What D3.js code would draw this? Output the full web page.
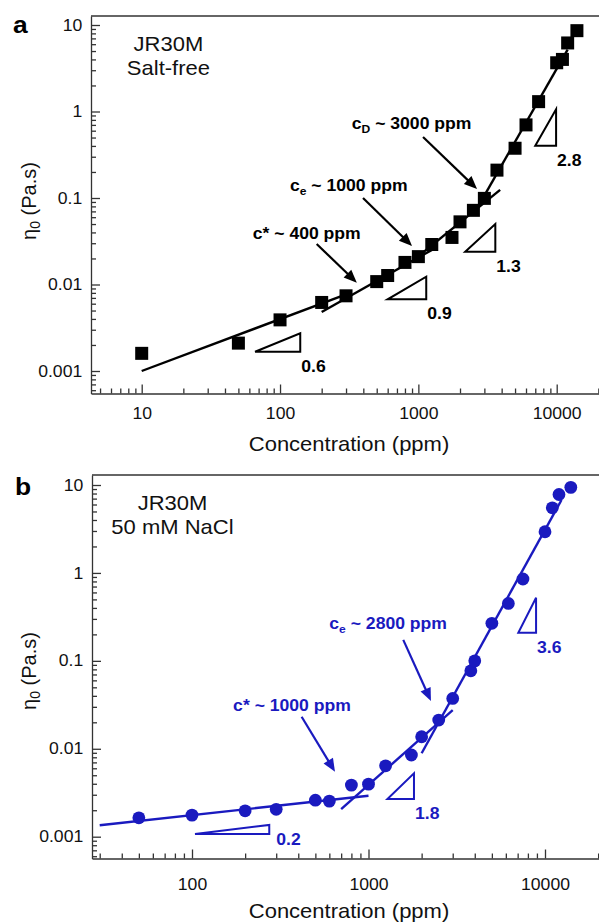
<!DOCTYPE html>
<html>
<head>
<meta charset="utf-8">
<script src="https://cdn.jsdelivr.net/npm/d3@7"></script>
<style>
  html, body { margin: 0; padding: 0; background: #fff; }
  svg { display: block; font-family: "Liberation Sans", Arial, Helvetica, sans-serif; }
</style>
</head>
<body>
<svg id="chart" width="599" height="924"></svg>
<script>
// ---- panel a : salt-free, squares ----
const concA = [10, 50, 100, 200, 300, 500, 600, 800, 1000, 1250, 1750, 2000, 2500, 3000, 3700, 5000, 6000, 7400, 10000, 11000, 12000, 14000];
const etaA = [0.0016, 0.0021, 0.0039, 0.0062, 0.0074, 0.0108, 0.0127, 0.018, 0.021, 0.029, 0.035, 0.053, 0.072, 0.099, 0.21, 0.376, 0.70, 1.30, 3.66, 4.0, 6.2, 8.6];
// power-law fits, [[c0, eta0], [c1, eta1]]
const fitsA = [
  [[10, 0.001], [300, 0.0077]],
  [[200, 0.0048], [1300, 0.026]],
  [[900, 0.0185], [3900, 0.124]],
  [[2600, 0.0715], [12000, 5.2]],
];
// slope triangles [cLeft, cRight, etaLow, etaHigh]
const trisA = [[66, 140, 0.00167, 0.00273], [600, 1140, 0.00675, 0.0123], [2180, 3600, 0.0239, 0.050], [7000, 9900, 0.403, 1.06]];
const triLabelsA = ['0.6', '0.9', '1.3', '2.8'];
const calloutsA = [
  { sub: '', tail: '* ~ 400 ppm', at: [63.5, 0.0336], from: [184, 0.0294], to: [359, 0.0105] },
  { sub: 'e', tail: ' ~ 1000 ppm', at: [118, 0.1205], from: [398, 0.1], to: [900, 0.0279] },
  { sub: 'D', tail: ' ~ 3000 ppm', at: [330, 0.628], from: [1081, 0.507], to: [2655, 0.127] },
];
const notesA = [['JR30M', 15.6, 5.0], ['Salt-free', 15.6, 2.64]];

// ---- panel b : 50 mM NaCl, circles ----
const concB = [50, 100, 200, 300, 500, 600, 800, 1000, 1250, 1750, 2000, 2500, 3000, 3800, 4000, 5000, 6200, 7500, 10000, 11000, 12000, 14000];
const etaB = [0.00164, 0.00176, 0.00197, 0.00205, 0.0026, 0.00254, 0.00386, 0.00396, 0.0064, 0.0085, 0.0137, 0.0212, 0.0374, 0.077, 0.100, 0.267, 0.45, 0.853, 2.94, 5.5, 7.8, 9.4];
const fitsB = [
  [[30, 0.00135], [1000, 0.00292]],
  [[700, 0.00206], [3000, 0.0275]],
  [[2000, 0.0089], [12400, 6.75]],
];
const trisB = [[104, 274, 0.00107, 0.00136], [1280, 1810, 0.00268, 0.00525], [7060, 8900, 0.209, 0.522]];
const triLabelsB = ['0.2', '1.8', '3.6'];
const calloutsB = [
  { sub: '', tail: '* ~ 1000 ppm', at: [171, 0.0268], from: [418, 0.0231], to: [646, 0.00547] },
  { sub: 'e', tail: ' ~ 2800 ppm', at: [600, 0.230], from: [1574, 0.173], to: [2259, 0.0349] },
];
const notesB = [['JR30M', 77.5, 5.2], ['50 mM NaCl', 77.5, 2.77]];

// axis ticks
const yTicks = [0.001, 0.01, 0.1, 1, 10];
const yTickLabels = ['0.001', '0.01', '0.1', '1', '10'];
const xTicksA = [10, 100, 1000, 10000];
const xTicksB = [100, 1000, 10000];
const xTickLabelsA = ['10', '100', '1000', '10000'];
const xTickLabelsB = ['100', '1000', '10000'];

const SX = 1.1; // the figure's lettering is slightly wide
const svg = d3.select('#chart');

function addText(g, x, y, str, { size = 16, weight = 'normal', anchor = 'start', fill = '#111' } = {}) {
  return g.append('text')
    .attr('transform', `translate(${x},${y}) scale(${SX},1)`)
    .attr('text-anchor', anchor)
    .attr('font-size', size)
    .attr('font-weight', weight)
    .attr('fill', fill)
    .text(str);
}

function drawPanel(cfg) {
  const { frame, xRef, yRef, color, marker } = cfg;
  const g = svg.append('g');

  // scales anchored on two known decades, then stretched to the frame
  const x = d3.scaleLog().domain(xRef.domain).range(xRef.range);
  x.domain([x.invert(frame.left), x.invert(frame.right)]).range([frame.left, frame.right]);
  const y = d3.scaleLog().domain(yRef.domain).range(yRef.range);
  y.domain([y.invert(frame.bottom), y.invert(frame.top)]).range([frame.bottom, frame.top]);

  const isMajor = v => Math.abs(Math.log10(v) - Math.round(Math.log10(v))) < 1e-9;

  // minor ticks
  g.append('g').attr('transform', `translate(${frame.left},0)`)
    .call(d3.axisLeft(y).tickValues(y.ticks().filter(v => !isMajor(v))).tickSize(-5).tickFormat(''))
    .call(s => s.select('.domain').remove());
  g.append('g').attr('transform', `translate(0,${frame.bottom})`)
    .call(d3.axisBottom(x).tickValues(x.ticks().filter(v => !isMajor(v))).tickSize(-5).tickFormat(''))
    .call(s => s.select('.domain').remove());

  // major ticks + labels
  const yl = new Map(yTicks.map((v, i) => [v, yTickLabels[i]]));
  const gy = g.append('g').attr('transform', `translate(${frame.left},0)`)
    .call(d3.axisLeft(y).tickValues(yTicks).tickSizeInner(-9).tickSizeOuter(0).tickPadding(8).tickFormat(d => yl.get(d)));
  const xl = new Map(cfg.xTicks.map((v, i) => [v, cfg.xTickLabels[i]]));
  const gx = g.append('g').attr('transform', `translate(0,${frame.bottom})`)
    .call(d3.axisBottom(x).tickValues(cfg.xTicks).tickSizeInner(-9).tickSizeOuter(0).tickPadding(cfg.xPad).tickFormat(d => xl.get(d)));

  g.selectAll('.tick line, .domain').attr('stroke', '#333').attr('stroke-width', 1.3);
  for (const ax of [gy, gx]) {
    ax.attr('font-family', null).attr('font-size', null);
    ax.selectAll('text').attr('font-size', 16).attr('fill', '#111')
      .attr('transform', `scale(${SX},1)`);
  }

  // top border
  g.append('line')
    .attr('x1', frame.left).attr('x2', frame.right)
    .attr('y1', frame.top).attr('y2', frame.top)
    .attr('stroke', '#333').attr('stroke-width', 1.3);

  // fits
  const line = d3.line().x(d => x(d[0])).y(d => y(d[1]));
  g.append('g').selectAll('path').data(cfg.fits).join('path')
    .attr('d', line).attr('fill', 'none').attr('stroke', color).attr('stroke-width', 2.4);

  // points
  const pts = d3.zip(cfg.conc, cfg.eta);
  if (marker === 'square') {
    g.append('g').selectAll('rect').data(pts).join('rect')
      .attr('x', d => x(d[0]) - 6.5).attr('y', d => y(d[1]) - 6.5)
      .attr('width', 13).attr('height', 13).attr('fill', color);
  } else {
    g.append('g').selectAll('circle').data(pts).join('circle')
      .attr('cx', d => x(d[0])).attr('cy', d => y(d[1])).attr('r', 6.4).attr('fill', color);
  }

  // slope triangles
  cfg.tris.forEach((t, i) => {
    const [c0, c1, lo, hi] = t;
    const pL = [x(c0), y(lo)], pR = [x(c1), y(lo)], pT = [x(c1), y(hi)];
    g.append('path')
      .attr('d', `M${pL}L${pR}L${pT}Z`)
      .attr('fill', 'none').attr('stroke', color).attr('stroke-width', 2).attr('stroke-linejoin', 'miter');
    const flat = pR[1] - pT[1] < 14;
    addText(g, pR[0] + (flat ? 7 : 1), pR[1] + (flat ? 10.5 : 20), cfg.triLabels[i], { size: 16, weight: 'bold', fill: color });
  });

  // callouts with arrows
  for (const c of cfg.callouts) {
    const t = g.append('text')
      .attr('transform', `translate(${x(c.at[0])},${y(c.at[1])}) scale(${SX},1)`)
      .attr('font-size', 16).attr('font-weight', 'bold').attr('fill', color);
    t.append('tspan').text('c');
    if (c.sub) {
      t.append('tspan').attr('font-size', 11).attr('dy', 4).text(c.sub);
      t.append('tspan').attr('dy', -4).text(c.tail);
    } else {
      t.append('tspan').text(c.tail);
    }
    const x0 = x(c.from[0]), y0 = y(c.from[1]), x1 = x(c.to[0]), y1 = y(c.to[1]);
    const len = Math.hypot(x1 - x0, y1 - y0), ux = (x1 - x0) / len, uy = (y1 - y0) / len;
    const hl = 13, hw = 5.5;
    const bx = x1 - ux * hl, by = y1 - uy * hl;
    g.append('line').attr('x1', x0).attr('y1', y0).attr('x2', bx + ux * 2).attr('y2', by + uy * 2)
      .attr('stroke', color).attr('stroke-width', 2.2);
    g.append('path')
      .attr('d', `M${x1},${y1}L${bx - uy * hw},${by + ux * hw}L${bx + uy * hw},${by - ux * hw}Z`)
      .attr('fill', color);
  }

  // sample notes
  for (const [str, c, e] of cfg.notes) {
    addText(g, x(c), y(e), str, { size: 20, anchor: 'middle' });
  }

  // panel tag
  addText(g, cfg.tagAt[0], cfg.tagAt[1], cfg.tag, { size: 24, weight: 'bold', fill: '#000' });

  // axis titles
  addText(g, 349, frame.bottom + cfg.titleGap, 'Concentration (ppm)', { size: 20, anchor: 'middle' });
  const yt = g.append('text')
    .attr('transform', `translate(36,${cfg.yTitleMid}) rotate(-90)`)
    .attr('text-anchor', 'middle').attr('font-size', 20).attr('fill', '#111');
  yt.append('tspan').text('\u03b7');
  yt.append('tspan').attr('font-size', 14).attr('dy', 4).text('0');
  yt.append('tspan').attr('dy', -4).text(' (Pa.s)');
}

drawPanel({
  frame: { left: 91, right: 600, top: 16, bottom: 393.5 },
  xRef: { domain: [10, 10000], range: [141.7, 556.7] },
  yRef: { domain: [0.001, 10], range: [371, 25] },
  color: '#000', marker: 'square',
  conc: concA, eta: etaA, fits: fitsA, tris: trisA, triLabels: triLabelsA,
  callouts: calloutsA, notes: notesA,
  xTicks: xTicksA, xTickLabels: xTickLabelsA, xPad: 14,
  tag: 'a', tagAt: [13, 33], titleGap: 57.5, yTitleMid: 201,
});

drawPanel({
  frame: { left: 92, right: 600, top: 475, bottom: 858.5 },
  xRef: { domain: [100, 10000], range: [192, 545] },
  yRef: { domain: [0.001, 10], range: [836.7, 485] },
  color: '#1a1abf', marker: 'circle',
  conc: concB, eta: etaB, fits: fitsB, tris: trisB, triLabels: triLabelsB,
  callouts: calloutsB, notes: notesB,
  xTicks: xTicksB, xTickLabels: xTickLabelsB, xPad: 20,
  tag: 'b', tagAt: [15, 495], titleGap: 59, yTitleMid: 671,
});
</script>
</body>
</html>
